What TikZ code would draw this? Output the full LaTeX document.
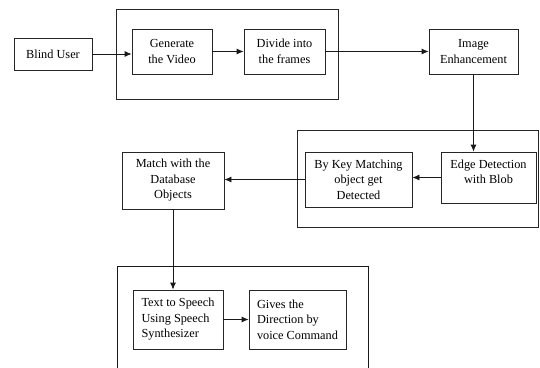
\documentclass[tikz,border=0pt]{standalone}
\usepackage{fontspec}
\setmainfont{Liberation Serif}
\usetikzlibrary{arrows.meta}
\begin{document}
\begin{tikzpicture}[x=1pt,y=-1pt,
  box/.style={draw=black!85, line width=0.8pt, rectangle, inner sep=0pt, align=center,
    font=\fontsize{12.3}{15.5}\selectfont},
  lbox/.style={box, align=left},
  grp/.style={draw=black!85, line width=0.8pt, rectangle, inner sep=0pt},
  arr/.style={draw=black!90, line width=0.8pt, -{Latex[length=7pt,width=6pt]}},
  ln/.style={draw=black!90, line width=0.8pt}]
\useasboundingbox (0,0) rectangle (540,367);
% group frames
\node[grp, minimum width=222pt, minimum height=90pt] (g1) at (227,54) {};
\node[grp, minimum width=241pt, minimum height=97pt] (g2) at (417.5,178.5) {};
\draw[ln] (117,367.5) coordinate (g3a) -- (117,266) -- (368,266) -- (368,367.5) coordinate (g3b);
% boxes
\node[box, minimum width=78pt, minimum height=32pt] (bu) at (53,54) {Blind User};
\node[box, minimum width=80pt, minimum height=45pt] (gen) at (172,51.5) {Generate\\the Video};
\node[box, minimum width=81pt, minimum height=45pt] (div) at (284.5,51.5) {Divide into\\the frames};
\node[box, minimum width=89pt, minimum height=45pt] (img) at (473.5,51.5) {Image\\Enhancement};
\node[box, minimum width=95pt, minimum height=51pt] (edge) at (488.5,177.5) {};
\node[align=center, inner sep=0pt, font=\fontsize{12.3}{15.5}\selectfont] (edget) at (488.5,172) {Edge Detection\\with Blob};
\node[box, minimum width=107pt, minimum height=55pt] (key) at (358.5,179.5) {By Key Matching\\object get\\Detected};
\node[box, minimum width=102pt, minimum height=57pt] (match) at (173,180.5) {Match with the\\Database\\Objects};
\node[lbox, minimum width=90pt, minimum height=59pt] (tts) at (178,319.5) {Text to Speech\\Using Speech\\Synthesizer};
\node[lbox, minimum width=97pt, minimum height=59pt] (giv) at (297.5,319.5) {Gives the\\Direction by\\voice Command};
% connectors
\draw[arr] (bu.east) -- (bu.east -| gen.west);
\draw[arr] (gen.east) -- (div.west);
\draw[arr] (div.east) -- (img.west);
\draw[arr] (img.south) -- (img.south |- edge.north);
\draw[arr] (edge.west) -- (edge.west -| key.east);
\draw[arr] (key.west) -- (key.west -| match.east);
\draw[arr] (match.south) -- (match.south |- tts.north);
\draw[arr] (tts.east) -- (giv.west);
\end{tikzpicture}
\end{document}
